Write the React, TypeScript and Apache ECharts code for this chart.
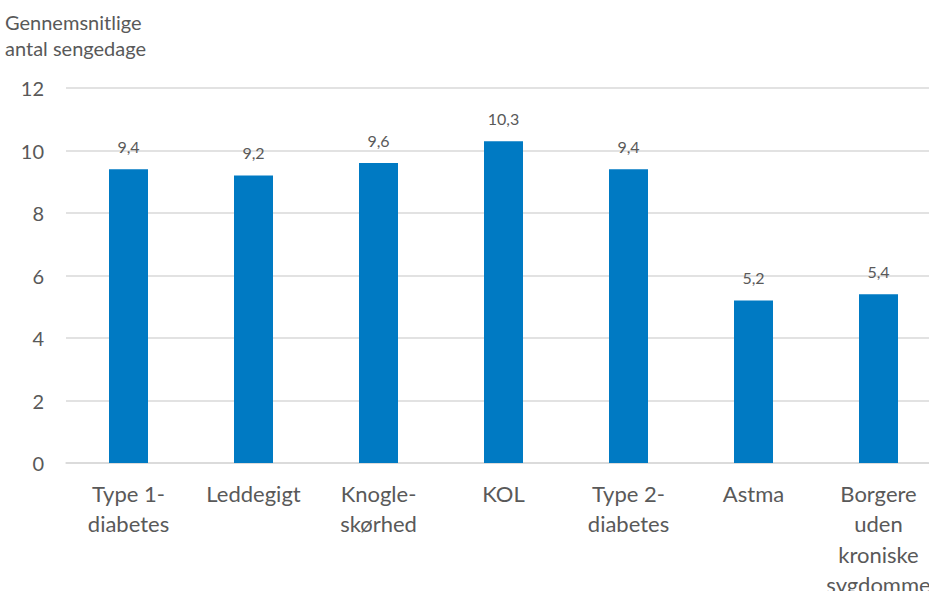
import React, { useEffect, useRef } from "react";
import * as echarts from "echarts";

const categories = [
  "Type 1-\ndiabetes",
  "Leddegigt",
  "Knogle-\nskørhed",
  "KOL",
  "Type 2-\ndiabetes",
  "Astma",
  "Borgere\nuden\nkroniske\nsygdomme",
];
const values = [9.4, 9.2, 9.6, 10.3, 9.4, 5.2, 5.4];
const axisTitle = "Gennemsnitlige\nantal sengedage";

const FONT = "Lato, 'Open Sans', sans-serif";
const TEXT = "#595959";

export default function App() {
  const ref = useRef<HTMLDivElement>(null);
  useEffect(() => {
    if (!ref.current) return;
    const chart = echarts.init(ref.current, undefined, { renderer: "svg" });
    chart.setOption({
      animation: false,
      backgroundColor: "#ffffff",
      textStyle: { fontFamily: FONT },
      grid: {
        left: 66,
        top: 88,
        width: 875,
        height: 375,
        containLabel: false,
        outerBoundsMode: "none",
      },
      graphic: [
        {
          type: "text",
          left: 5,
          top: 9,
          style: {
            text: axisTitle,
            fontFamily: FONT,
            fontSize: 20,
            lineHeight: 26,
            fill: TEXT,
          },
        },
      ],
      xAxis: {
        type: "category",
        data: categories,
        axisLine: { show: true, lineStyle: { color: "#d9d9d9", width: 1.5 } },
        axisTick: { show: false },
        axisLabel: {
          color: TEXT,
          fontSize: 22,
          lineHeight: 30.5,
          margin: 15,
          interval: 0,
          fontFamily: FONT,
        },
      },
      yAxis: {
        type: "value",
        min: 0,
        max: 12,
        interval: 2,
        axisLine: { show: false },
        axisTick: { show: false },
        splitLine: { lineStyle: { color: "#d9d9d9", width: 1.5 } },
        axisLabel: { color: TEXT, fontSize: 20, margin: 22, fontFamily: FONT },
      },
      series: [
        {
          type: "bar",
          data: values,
          barWidth: 39,
          itemStyle: { color: "#007AC3" },
          label: {
            show: true,
            position: "top",
            distance: 15,
            color: TEXT,
            fontSize: 16,
            fontFamily: FONT,
            formatter: (p: any) => p.value.toFixed(1).replace(".", ","),
          },
        },
      ],
    });
    return () => chart.dispose();
  }, []);
  return (
    <div
      ref={ref}
      style={{ position: "fixed", left: 0, top: 0, width: 929, height: 591 }}
    />
  );
}
